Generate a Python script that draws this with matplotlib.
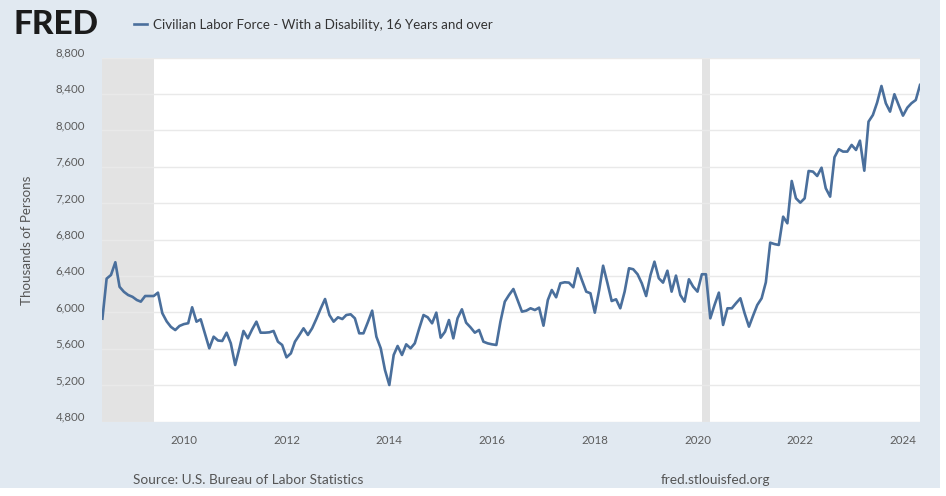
import matplotlib
matplotlib.use('Agg')
import matplotlib.pyplot as plt
import matplotlib.transforms as mtrans
from matplotlib.patches import Rectangle
import pandas as pd

# ---------------- data ----------------
start_month = '2008-06-01'
labor_force = [
    5930, 6370, 6410, 6550, 6280, 6225, 6190, 6170, 6135, 6117,
    6179, 6179, 6179, 6216, 5990, 5900, 5840, 5805, 5850, 5870,
    5880, 6055, 5897, 5923, 5760, 5604, 5732, 5690, 5685, 5776,
    5659, 5421, 5610, 5795, 5714, 5810, 5897, 5776, 5776, 5780,
    5795, 5677, 5641, 5505, 5549, 5677, 5750, 5824, 5751, 5824,
    5930, 6044, 6146, 5970, 5897, 5945, 5926, 5970, 5978, 5934,
    5769, 5769, 5890, 6018, 5732, 5604, 5366, 5201, 5531, 5630,
    5531, 5648, 5604, 5659, 5820, 5970, 5945, 5879, 5996, 5721,
    5787, 5915, 5714, 5934, 6033, 5886, 5835, 5776, 5806, 5677,
    5659, 5648, 5641, 5897, 6117, 6190, 6256, 6135, 6007, 6018,
    6044, 6025, 6051, 5853, 6135, 6245, 6165, 6319, 6330, 6326,
    6275, 6484, 6355, 6227, 6209, 5996, 6245, 6512, 6319, 6124,
    6143, 6044, 6227, 6484, 6473, 6418, 6319, 6179, 6410, 6556,
    6374, 6326, 6457, 6227, 6403, 6190, 6117, 6363, 6282, 6227,
    6418, 6418, 5934, 6080, 6216, 5861, 6044, 6044, 6100, 6154,
    5990, 5842, 5970, 6080, 6154, 6330, 6765, 6750, 6740, 7051,
    6978, 7443, 7253, 7205, 7253, 7553, 7546, 7498, 7589, 7363,
    7271, 7704, 7792, 7766, 7766, 7839, 7784, 7886, 7556, 8095,
    8168, 8304, 8487, 8297, 8205, 8396, 8278, 8161, 8249, 8297,
    8333, 8498,
]
recession_starts = ['2007-12-01', '2020-02-01']
recession_ends = ['2009-06-01', '2020-04-01']
series_name = 'Civilian Labor Force - With a Disability, 16 Years and over'
y_ticks = [4800, 5200, 5600, 6000, 6400, 6800, 7200, 7600, 8000, 8400, 8800]
y_tick_labels = ['4,800', '5,200', '5,600', '6,000', '6,400', '6,800',
                 '7,200', '7,600', '8,000', '8,400', '8,800']
x_tick_years = [2010, 2012, 2014, 2016, 2018, 2020, 2022, 2024]
y_label = 'Thousands of Persons'
source_text = 'Source: U.S. Bureau of Labor Statistics'
site_text = 'fred.stlouisfed.org'

dates = pd.date_range(start_month, periods=len(labor_force), freq='MS')

# ---------------- style ----------------
BG = '#e1e9f1'
LINE = '#4a6f9c'
GRID = '#e9e9e9'
TICK = '#5c5c5c'
FONT = ['Lato', 'DejaVu Sans']
plt.rcParams['font.family'] = FONT

W, H = 946, 496
fig = plt.figure(figsize=(W / 100, H / 100), dpi=100)
fig.patch.set_facecolor(BG)

left, right, top, bottom = 102.4, 920, 57.5, 421.5
ax = fig.add_axes([left / W, 1 - bottom / H, (right - left) / W, (bottom - top) / H])
ax.set_facecolor('white')

for s, e in zip(recession_starts, recession_ends):
    ax.axvspan(pd.Timestamp(s), pd.Timestamp(e), color='#e3e3e3', lw=0, zorder=1)

line, = ax.plot(dates, labor_force, color=LINE, lw=1.9, zorder=3,
                solid_joinstyle='round')

ax.set_xlim(dates[0], dates[-1])
ax.set_ylim(y_ticks[0], y_ticks[-1])
ax.set_yticks(y_ticks)
ax.set_yticklabels(y_tick_labels)
ax.set_xticks([pd.Timestamp(f'{y}-01-01') for y in x_tick_years])
ax.set_xticklabels([str(y) for y in x_tick_years])
ax.grid(axis='y', color=GRID, lw=1.0, zorder=2)
ax.grid(axis='x', visible=False)
ax.set_axisbelow(False)
for sp in ax.spines.values():
    sp.set_visible(False)
ax.tick_params(axis='both', length=0, colors=TICK, labelsize=8.3)
ax.tick_params(axis='y', pad=12.5)
ax.tick_params(axis='x', pad=10)
offset = mtrans.ScaledTranslation(0, 4 / 72, fig.dpi_scale_trans)
for lab in ax.get_yticklabels():
    lab.set_transform(lab.get_transform() + offset)

fig.text(27 / W, 1 - 240 / H, y_label, rotation=90, ha='center', va='center',
         fontsize=9.6, color='#555555')

# header
fig.text(14 / W, 1 - 25 / H, 'FRED', ha='left', va='center', fontsize=24,
         fontweight='black', color='#1b1b1b')
leg = fig.legend([line], [series_name], loc='center left',
                 bbox_to_anchor=(134 / W, 1 - 25 / H), frameon=False,
                 borderpad=0, borderaxespad=0, handlelength=1.0,
                 handletextpad=0.4, fontsize=9.65)
for t in leg.get_texts():
    t.set_color('#333333')

# footer
fig.text(133 / W, 1 - 480 / H, source_text, ha='left', va='center',
         fontsize=9.8, color='#555555')
fig.text(715 / W, 1 - 480 / H, site_text, ha='center', va='center',
         fontsize=9.8, color='#555555')

# white screenshot margins
fig.add_artist(Rectangle((940 / W, 0), 6 / W, 1, transform=fig.transFigure,
                         color='white', lw=0))
fig.add_artist(Rectangle((0, 0), 1, 8 / H, transform=fig.transFigure,
                         color='white', lw=0))

fig.savefig('out.png', dpi=100, facecolor=fig.get_facecolor())
